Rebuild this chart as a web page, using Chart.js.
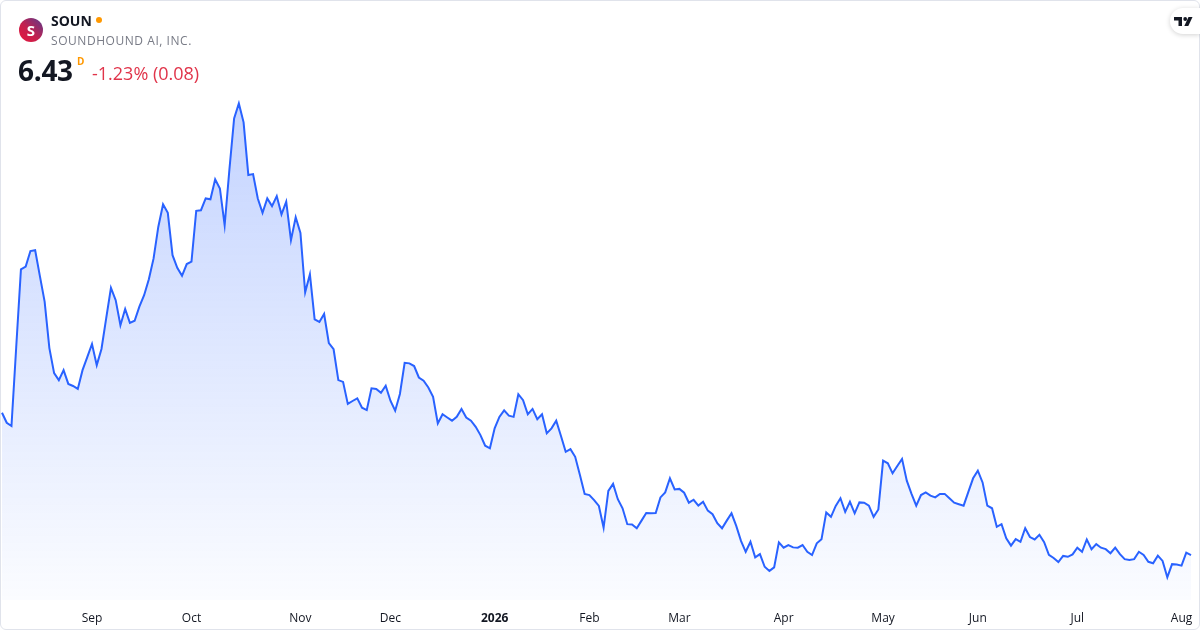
<!DOCTYPE html>
<html>
<head>
<meta charset="utf-8">
<script src="https://cdn.jsdelivr.net/npm/chart.js@4.4.1/dist/chart.umd.min.js"></script>
<style>
  html, body { margin: 0; padding: 0; background: #fff; }
  body { width: 1200px; height: 630px; position: relative; overflow: hidden; font-family: "Open Sans", "Noto Sans", sans-serif; }
  #marco { position: absolute; left: 0; top: 0; width: 1198px; height: 628px; border: 1px solid #e0e3eb; border-radius: 6px; }
  #lienzo { position: absolute; left: 0; top: 0; }
  .cabecera { position: absolute; left: 0; top: 0; z-index: 2; }
  #logo { position: absolute; left: 19px; top: 18px; width: 24px; height: 24px; border-radius: 50%;
          background: linear-gradient(45deg, #e8173c 0%, #c4204e 45%, #5b3b8c 100%);
          color: #fff; font: bold 15px "Open Sans", sans-serif; text-align: center; line-height: 24px; }
  #ticker { position: absolute; left: 51px; top: 11px; font: bold 14px "Open Sans", sans-serif; color: #131722; white-space: nowrap; }
  #punto { position: absolute; left: 96px; top: 17px; width: 6px; height: 6px; border-radius: 50%; background: #ff9800; }
  #nombre { position: absolute; left: 51px; top: 32px; font: 12px "Open Sans", sans-serif; color: #787b86; letter-spacing: 0.55px; white-space: nowrap; }
  #precio { position: absolute; left: 18px; top: 51px; font: bold 28px "Open Sans", sans-serif; color: #131722; letter-spacing: -0.3px; }
  #periodo { position: absolute; left: 77px; top: 54px; font: bold 10px "Open Sans", sans-serif; color: #ff9800; }
  #cambio { position: absolute; left: 92px; top: 61px; font: 18px "Open Sans", sans-serif; color: #e0344a; white-space: nowrap; }
  #tv { position: absolute; right: 0; top: 8px; width: 30px; height: 26px; background: #fff; border-radius: 13px 0 0 13px;
        box-shadow: 0 1px 5px rgba(0,0,0,0.18); }
</style>
</head>
<body>
<div id="marco"></div>
<canvas id="lienzo" width="1200" height="630"></canvas>
<div class="cabecera">
  <div id="logo">S</div>
  <div id="ticker">SOUN</div>
  <div id="punto"></div>
  <div id="nombre">SOUNDHOUND AI, INC.</div>
  <div id="precio">6.43</div>
  <div id="periodo">D</div>
  <div id="cambio">-1.23% (0.08)</div>
</div>
<div id="tv">
  <svg width="30" height="26" viewBox="0 0 30 26">
    <path d="M4 9 h8 v9 h-3.5 v-5.5 h-4.5 z" fill="#131722"/>
    <circle cx="15.2" cy="11" r="1.9" fill="#131722"/>
    <path d="M18.5 9 h4 l-4.2 9 h-4 z" fill="#131722"/>
  </svg>
</div>
<script>
// Cierres diarios SOUN (05-ago-2025 a 05-ago-2026)
const cierres = [
  11.27, 10.93, 10.82, 13.50, 16.15, 16.24, 16.77, 16.80, 15.92, 15.05,
  13.47, 12.62, 12.38, 12.72, 12.25, 12.18, 12.08, 12.72, 13.16, 13.61,
  12.89, 13.44, 14.49, 15.52, 15.10, 14.25, 14.80, 14.33, 14.40, 14.88,
  15.27, 15.81, 16.52, 17.60, 18.36, 18.07, 16.63, 16.20, 15.93, 16.33,
  16.41, 18.14, 18.16, 18.56, 18.53, 19.21, 18.90, 17.65, 19.53, 21.28,
  21.79, 21.15, 19.36, 19.39, 18.56, 18.07, 18.56, 18.30, 18.64, 18.02,
  18.45, 17.14, 17.92, 17.39, 15.37, 15.98, 14.45, 14.36, 14.63, 13.64,
  13.43, 12.38, 12.32, 11.57, 11.67, 11.76, 11.44, 11.36, 12.10, 12.08,
  11.95, 12.19, 11.68, 11.34, 11.91, 12.97, 12.95, 12.86, 12.47, 12.36,
  12.13, 11.81, 10.91, 11.22, 11.11, 11.00, 11.13, 11.40, 11.11, 11.00,
  10.79, 10.51, 10.15, 10.06, 10.74, 11.13, 11.35, 11.17, 11.13, 11.90,
  11.70, 11.22, 11.40, 11.05, 11.22, 10.57, 10.74, 11.00, 10.48, 9.94,
  10.03, 9.77, 9.15, 8.51, 8.47, 8.30, 8.10, 7.36, 8.61, 8.85,
  8.33, 8.02, 7.48, 7.47, 7.34, 7.60, 7.86, 7.85, 7.86, 8.39,
  8.56, 9.04, 8.66, 8.68, 8.55, 8.21, 8.31, 8.11, 8.24, 7.94,
  7.82, 7.51, 7.34, 7.60, 7.85, 7.42, 6.91, 6.54, 6.88, 6.35,
  6.46, 6.03, 5.89, 6.01, 6.86, 6.68, 6.77, 6.69, 6.68, 6.77,
  6.54, 6.43, 6.83, 6.97, 7.88, 7.73, 8.10, 8.36, 7.90, 8.24,
  7.85, 8.22, 8.21, 8.11, 7.73, 7.98, 9.64, 9.55, 9.21, 9.46,
  9.70, 8.96, 8.51, 8.11, 8.47, 8.56, 8.45, 8.39, 8.51, 8.51,
  8.36, 8.21, 8.16, 8.11, 8.58, 9.04, 9.30, 8.90, 8.11, 8.02,
  7.39, 7.48, 7.00, 6.75, 6.97, 6.88, 7.34, 7.04, 6.96, 7.12,
  6.87, 6.44, 6.33, 6.19, 6.40, 6.37, 6.45, 6.68, 6.54, 6.96,
  6.63, 6.80, 6.68, 6.63, 6.49, 6.68, 6.46, 6.29, 6.26, 6.29,
  6.54, 6.43, 6.20, 6.15, 6.41, 6.23, 5.67, 6.12, 6.11, 6.07,
  6.51, 6.43
];

// Etiquetas del eje x: primer día hábil de cada mes (índice en cierres)
const etiquetasMes = ['Sep', 'Oct', 'Nov', 'Dec', '2026', 'Feb', 'Mar', 'Apr', 'May', 'Jun', 'Jul', 'Aug'];
const inicioMes = [19, 40, 63, 82, 104, 124, 143, 165, 186, 206, 227, 249];

const dias = cierres.map((_, i) => i);

const ctx = document.getElementById('lienzo').getContext('2d');

new Chart(ctx, {
    type: 'line',
    data: {
        labels: dias,
        datasets: [{
            data: cierres,
            borderColor: '#2962ff',
            borderWidth: 2,
            pointRadius: 0,
            tension: 0,
            fill: 'start',
            backgroundColor: (c) => {
                const area = c.chart.chartArea;
                if (!area) return 'rgba(41,98,255,0.1)';
                const g = c.chart.ctx.createLinearGradient(0, 100, 0, area.bottom);
                g.addColorStop(0, 'rgba(41,98,255,0.28)');
                g.addColorStop(1, 'rgba(41,98,255,0.02)');
                return g;
            }
        }]
    },
    options: {
        responsive: false,
        animation: false,
        layout: { padding: { top: 90, left: 2, right: 9, bottom: 0 } },
        plugins: {
            legend: { display: false },
            tooltip: { enabled: false }
        },
        scales: {
            x: {
                offset: false,
                grid: { display: false, drawTicks: false },
                border: { display: false },
                afterFit: (escala) => {
                    escala.height = 30;
                    escala.paddingLeft = 0;
                    escala.paddingRight = 0;
                },
                ticks: {
                    autoSkip: false,
                    maxRotation: 0,
                    padding: 11,
                    color: '#131722',
                    font: (c) => ({
                        family: '"Open Sans", "Noto Sans", sans-serif',
                        size: 12,
                        weight: c.tick && c.tick.label === '2026' ? 'bold' : 'normal'
                    }),
                    callback: (valor, i) => {
                        const k = inicioMes.indexOf(i);
                        return k >= 0 ? etiquetasMes[k] : null;
                    }
                }
            },
            y: {
                display: false,
                min: 4.9,
                max: 22.25
            }
        }
    }
});
</script>
</body>
</html>
